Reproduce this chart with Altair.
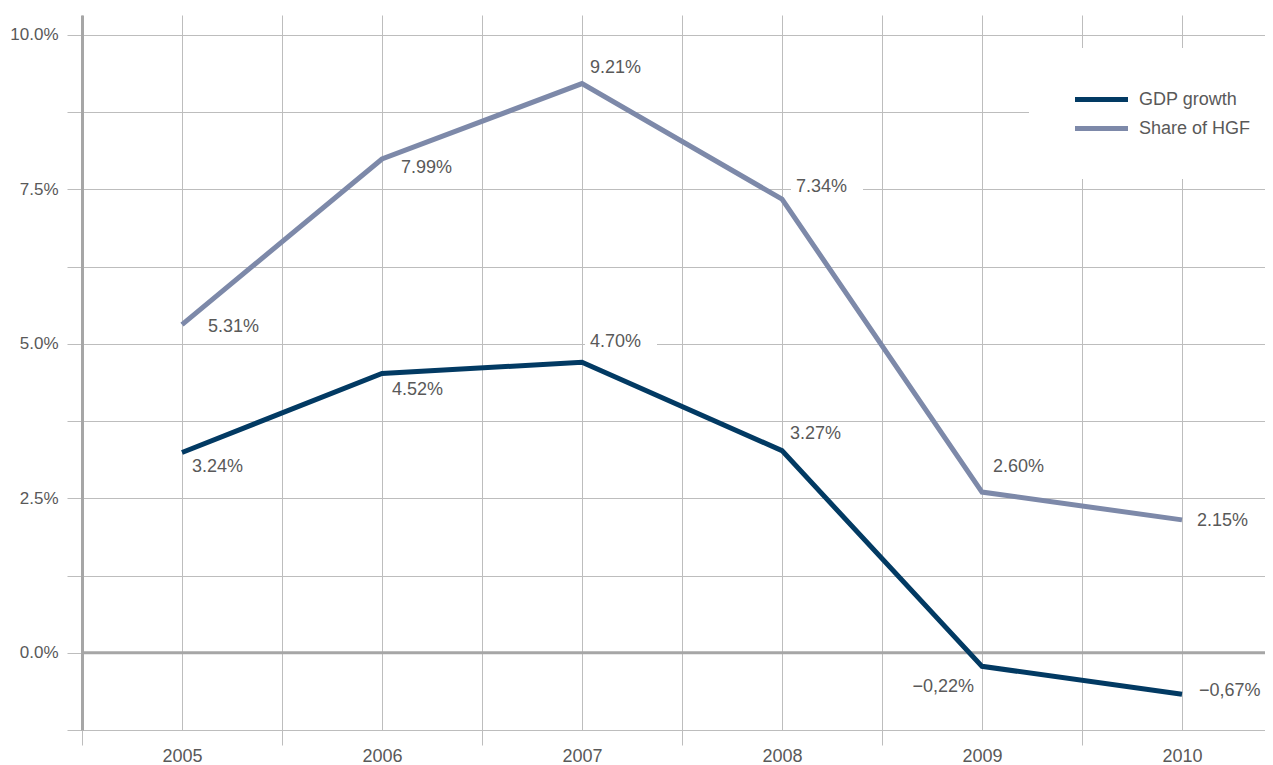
import altair as alt
import pandas as pd

# ---- data ----
years = [2005, 2006, 2007, 2008, 2009, 2010]
gdp_growth = [3.24, 4.52, 4.70, 3.27, -0.22, -0.67]
hgf_share = [5.31, 7.99, 9.21, 7.34, 2.60, 2.15]
gdp_labels = ["3.24%", "4.52%", "4.70%", "3.27%", "\u22120,22%", "\u22120,67%"]
hgf_labels = ["5.31%", "7.99%", "9.21%", "7.34%", "2.60%", "2.15%"]
series_names = ["GDP growth", "Share of HGF"]
x_tick_values = [2004.5, 2005, 2005.5, 2006, 2006.5, 2007, 2007.5, 2008, 2008.5, 2009, 2009.5, 2010]
y_tick_values = [-1.25, 0, 1.25, 2.5, 3.75, 5, 6.25, 7.5, 8.75, 10]

# ---- styling ----
colors = ["#023a63", "#7d89a9"]
FONT = "Liberation Sans, Arial"
TEXT = "#595959"
GRID = "#bdbdbd"
AXIS = "#a6a6a6"
FS = 18
X_DOMAIN = [2004.5, 2010.415]
Y_DOMAIN = [-1.25, 10.32]
# per-label offsets (dx, dy, align)
gdp_offsets = [(10, 14, "left"), (10, 17, "left"), (8, -20, "left"), (8, -17, "left"), (-8, 21, "right"), (17, -3, "left")]
hgf_offsets = [(26, 2, "left"), (19, 9, "left"), (8, -16, "left"), (14, -12, "left"), (11, -25, "left"), (15, 1, "left")]

df = pd.DataFrame({
    "year": years + years,
    "value": gdp_growth + hgf_share,
    "series": [series_names[0]] * len(years) + [series_names[1]] * len(years),
    "label": gdp_labels + hgf_labels,
})

x_enc = alt.X(
    "year:Q",
    scale=alt.Scale(domain=X_DOMAIN, nice=False, zero=False),
    axis=alt.Axis(
        values=x_tick_values, title=None, domain=False, grid=True,
        gridColor=GRID, gridWidth=1, tickSize=15, tickColor=GRID,
        tickOpacity={"condition": {"test": "datum.value % 1 != 0", "value": 1}, "value": 0},
        labelExpr="datum.value % 1 == 0 ? toString(datum.value) : ''",
        labelPadding=2, labelFont=FONT, labelFontSize=FS, labelColor=TEXT,
        labelOverlap=False, labelFlush=False,
    ),
)
y_enc = alt.Y(
    "value:Q",
    scale=alt.Scale(domain=Y_DOMAIN, nice=False, zero=False),
    axis=alt.Axis(
        values=y_tick_values, title=None, domain=True, domainColor=AXIS, domainWidth=3,
        grid=True, gridColor=GRID, gridWidth=1, tickSize=15, tickColor=GRID,
        labelExpr="datum.value % 2.5 == 0 ? format(datum.value, '.1f') + '%' : ''",
        labelPadding=9, labelFont=FONT, labelFontSize=17, labelColor=TEXT,
        labelOverlap=False, labelFlush=False,
    ),
)

base = alt.Chart(df)

zero_line = alt.Chart(pd.DataFrame({"z": [0]})).mark_rule(color=AXIS, strokeWidth=3).encode(
    y=alt.Y("z:Q", scale=alt.Scale(domain=Y_DOMAIN, nice=False, zero=False))
)

layers = [zero_line]

# white label boxes
for s, offs in zip(series_names, [gdp_offsets, hgf_offsets]):
    for yr, (dx, dy, al) in zip(years, offs):
        cx = dx + 31 if al == "left" else dx - 33
        layers.append(
            base.transform_filter(f"datum.series == '{s}' && datum.year == {yr}")
            .mark_point(shape="M-1,-0.3H1V0.3H-1Z", size=72 * 72, filled=True,
                        color="white", opacity=1, xOffset=cx, yOffset=dy)
            .encode(x=x_enc, y=y_enc)
        )

lines = base.mark_line(strokeWidth=5).encode(
    x=x_enc,
    y=y_enc,
    color=alt.Color(
        "series:N",
        scale=alt.Scale(domain=series_names, range=colors),
        legend=alt.Legend(
            title=None, orient="none", legendX=947, legendY=33, direction="vertical",
            fillColor="white", padding=40, symbolType="M-3,0H3", symbolSize=312,
            symbolStrokeWidth=5, symbolOffset=21, labelOffset=26, rowPadding=7,
            labelFont=FONT, labelFontSize=FS, labelColor=TEXT,
        ),
    ),
)
layers.append(lines)

for s, labs_offs in zip(series_names, [gdp_offsets, hgf_offsets]):
    for yr, (dx, dy, al) in zip(years, labs_offs):
        layers.append(
            base.transform_filter(f"datum.series == '{s}' && datum.year == {yr}")
            .mark_text(align=al, baseline="middle", dx=dx, dy=dy, font=FONT,
                       fontSize=FS, color=TEXT)
            .encode(x=x_enc, y=y_enc, text="label:N")
        )

chart = alt.layer(*layers).properties(
    width=1183, height=715,
    padding={"left": 74, "top": 7, "right": 0, "bottom": 35},
    autosize="none",
).configure_view(stroke=None)

chart.save("out.html", embed_options={"renderer": "svg", "actions": False})
